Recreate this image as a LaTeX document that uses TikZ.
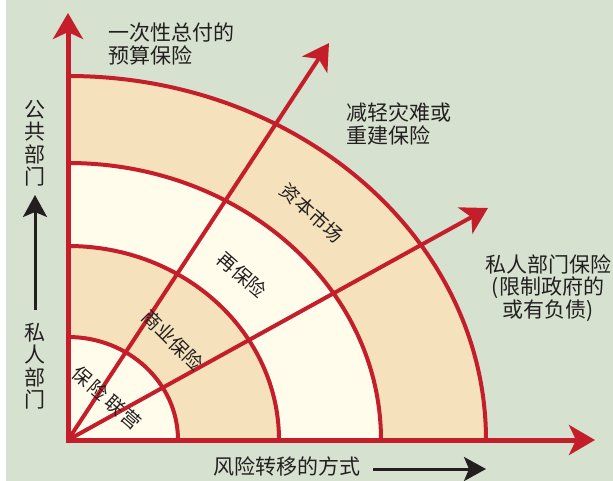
\documentclass[tikz,border=0pt]{standalone}
\usepackage{fontspec}
\setmainfont{Noto Sans CJK SC}
\usetikzlibrary{arrows.meta}
\definecolor{bg}{HTML}{D6E1CF}
\definecolor{tanfill}{HTML}{F5E2BC}
\definecolor{creamfill}{HTML}{FFFCEC}
\definecolor{axred}{HTML}{C41E2A}
\definecolor{inktext}{HTML}{231F20}
\begin{document}
\begin{tikzpicture}[x=1pt,y=-1pt,
  redhead/.tip={Stealth[length=26pt,width=30pt,inset=7pt]},
  blackhead/.tip={Stealth[length=22pt,width=24pt,inset=5pt]},
  axisline/.style={draw=axred,line width=5pt,line join=miter},
  diagline/.style={draw=axred,line width=4pt,-redhead},
  ringline/.style={draw=axred,line width=4pt},
  blackarrow/.style={draw=inktext,line width=3pt,-blackhead},
  outerlabel/.style={font=\fontsize{21}{22.5}\selectfont,text=inktext,inner sep=0pt},
  innerlabel/.style={font=\fontsize{19}{22}\selectfont,text=inktext,inner sep=0pt}]
\useasboundingbox (0,0) rectangle (613,481);
\fill[white] (0,0) rectangle (613,481);
\fill[bg] (6,0) rectangle (613,481);
% rings
\fill[tanfill] (68,440) -- (486,440) arc[start angle=0,end angle=-90,x radius=418,y radius=364] -- cycle;
\fill[creamfill] (68,440) -- (381,440) arc[start angle=0,end angle=-90,x radius=313,y radius=277] -- cycle;
\fill[tanfill] (68,440) -- (279,440) arc[start angle=0,end angle=-90,x radius=211,y radius=194] -- cycle;
\fill[creamfill] (68,440) -- (178,440) arc[start angle=0,end angle=-90,x radius=110,y radius=103] -- cycle;
\draw[ringline] (178,440) arc[start angle=0,end angle=-90,x radius=110,y radius=103];
\draw[ringline] (279,440) arc[start angle=0,end angle=-90,x radius=211,y radius=194];
\draw[ringline] (381,440) arc[start angle=0,end angle=-90,x radius=313,y radius=277];
\draw[ringline] (486,440) arc[start angle=0,end angle=-90,x radius=418,y radius=364];
% axes
\coordinate (O) at (68,440);
\coordinate (ytip) at (68,13);
\coordinate (xtip) at (595,440);
\coordinate (d1tip) at (329,43);
\coordinate (d2tip) at (488,208);
\draw[diagline] (O) -- (d1tip);
\draw[diagline] (O) -- (d2tip);
\draw[axisline,redhead-redhead] (ytip) -- (O) -- (xtip);
% inner labels
\node[innerlabel,rotate=-42] (cap) at (312,213) {资本市场};
\node[innerlabel,rotate=-41] (rei) at (242,275) {再保险};
\node[innerlabel,rotate=-45] (com) at (173,340) {商业保险};
\node[innerlabel,rotate=-41] (pool) at (107,398) {保\hspace{3pt}险\hspace{3pt}联\hspace{3pt}营};
% outer labels
\node[outerlabel,anchor=west,align=left] (lump) at (108,44) {一次性总付的\\预算保险};
\node[outerlabel,anchor=west,align=left] (dis) at (346,124) {减轻灾难或\\重建保险};
\node[outerlabel,align=center] (priv) at (548,288) {私人部门保险\\(限制政府的\\或有负债)};
\node[outerlabel,align=center] (pub) at (35,143) {公\\共\\部\\门};
\node[outerlabel,align=center] (pri) at (35,366) {私\\人\\部\\门};
\node[outerlabel] (way) at (287,466) {风险转移的方式};
\coordinate (vb) at (35,310);
\coordinate (vt) at (35,195);
\coordinate (hb) at (373,469);
\coordinate (ht) at (486,469);
\draw[blackarrow] (vb) -- (vt);
\draw[blackarrow] (hb) -- (ht);
\end{tikzpicture}
\end{document}
